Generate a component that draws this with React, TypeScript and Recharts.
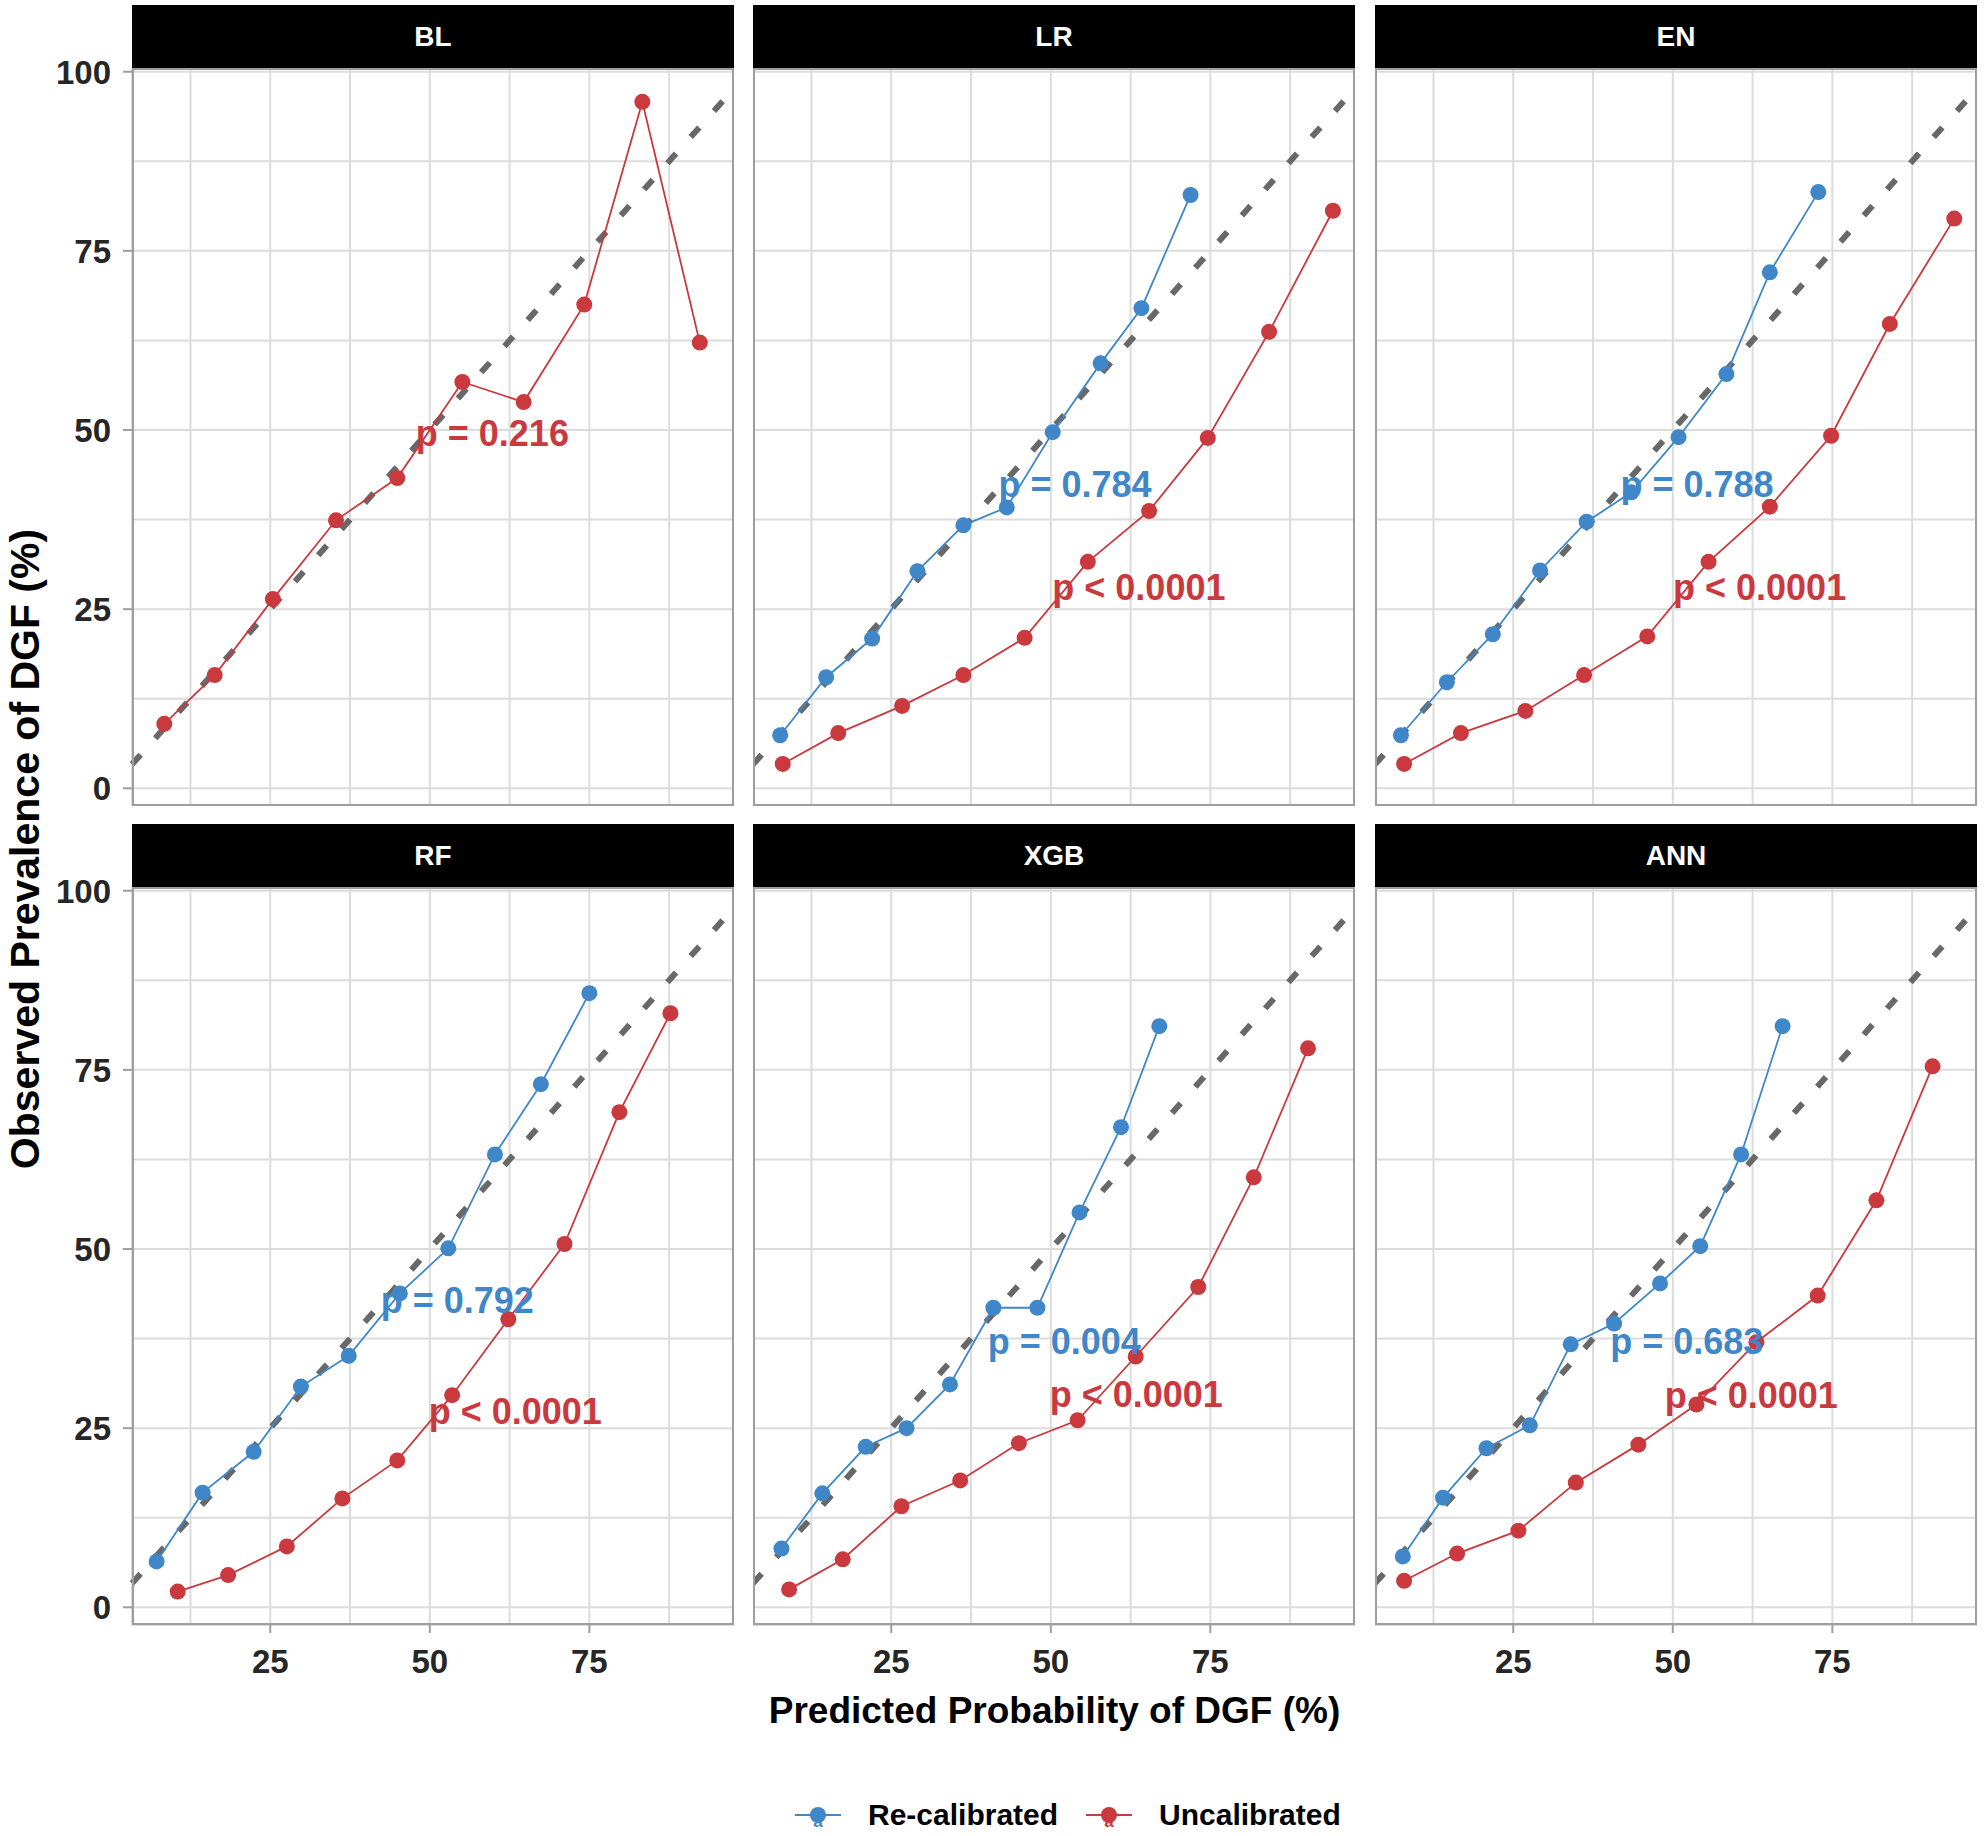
import React from "react";
import {
  LineChart,
  Line,
  XAxis,
  YAxis,
  CartesianGrid,
  ReferenceLine,
  ReferenceDot,
} from "recharts";

const BLUE = "#3f87c8";
const RED = "#c9393e";
const DIAG = "#686868";
const GRID = "#dcdcdc";
const BORDER = "#9e9e9e";
const INK = "#262626";

const X_DOMAIN: [number, number] = [3.34, 97.66];
const Y_DOMAIN: [number, number] = [-2.47, 100.52];
const X_TICKS = [12.5, 25, 37.5, 50, 62.5, 75, 87.5];
const Y_TICKS = [0, 12.5, 25, 37.5, 50, 62.5, 75, 87.5, 100];
const X_MAJOR = [25, 50, 75];
const Y_MAJOR = [0, 25, 50, 75, 100];

const MODELS = ["BL", "LR", "EN", "RF", "XGB", "ANN"];

// predicted (x) vs observed (y), per risk group
const BL_UNCAL_X = [8.4, 16.3, 25.4, 35.3, 44.9, 55.1, 64.7, 74.2, 83.3, 92.3];
const BL_UNCAL_Y = [9.0, 15.8, 26.4, 37.4, 43.3, 56.7, 53.9, 67.5, 95.8, 62.2];

const LR_RECAL_X = [7.6, 14.8, 22.0, 29.1, 36.3, 43.1, 50.3, 57.8, 64.2, 71.9];
const LR_RECAL_Y = [7.4, 15.5, 20.9, 30.3, 36.7, 39.2, 49.7, 59.3, 67.0, 82.8];
const LR_UNCAL_X = [8.0, 16.7, 26.7, 36.3, 45.9, 55.8, 65.4, 74.6, 84.2, 94.2];
const LR_UNCAL_Y = [3.4, 7.7, 11.5, 15.8, 21.0, 31.6, 38.7, 48.9, 63.7, 80.6];

const EN_RECAL_X = [7.4, 14.6, 21.8, 29.2, 36.5, 43.5, 50.9, 58.4, 65.2, 72.8];
const EN_RECAL_Y = [7.4, 14.8, 21.5, 30.4, 37.2, 41.3, 49.0, 57.8, 72.0, 83.2];
const EN_UNCAL_X = [7.9, 16.8, 26.9, 36.1, 46.0, 55.6, 65.2, 74.8, 84.0, 94.1];
const EN_UNCAL_Y = [3.4, 7.7, 10.8, 15.8, 21.2, 31.6, 39.3, 49.2, 64.8, 79.5];

const RF_RECAL_X = [7.2, 14.4, 22.4, 29.8, 37.3, 45.3, 52.9, 60.2, 67.4, 75.0];
const RF_RECAL_Y = [6.4, 16.0, 21.7, 30.8, 35.1, 43.8, 50.1, 63.2, 73.0, 85.7];
const RF_UNCAL_X = [10.5, 18.4, 27.6, 36.3, 44.9, 53.5, 62.3, 71.1, 79.7, 87.7];
const RF_UNCAL_Y = [2.2, 4.5, 8.5, 15.2, 20.5, 29.6, 40.2, 50.7, 69.1, 82.9];

const XGB_RECAL_X = [7.8, 14.2, 21.0, 27.4, 34.2, 41.0, 47.9, 54.5, 61.0, 67.0];
const XGB_RECAL_Y = [8.2, 15.9, 22.4, 25.0, 31.1, 41.8, 41.8, 55.1, 67.0, 81.1];
const XGB_UNCAL_X = [9.0, 17.4, 26.6, 35.8, 45.0, 54.2, 63.3, 73.1, 81.8, 90.3];
const XGB_UNCAL_Y = [2.5, 6.7, 14.1, 17.7, 22.9, 26.1, 35.0, 44.7, 60.0, 78.0];

const ANN_RECAL_X = [7.7, 14.0, 20.8, 27.6, 34.0, 40.8, 48.0, 54.3, 60.7, 67.2];
const ANN_RECAL_Y = [7.1, 15.3, 22.2, 25.4, 36.7, 39.6, 45.2, 50.4, 63.2, 81.1];
const ANN_UNCAL_X = [7.9, 16.2, 25.8, 34.8, 44.6, 53.7, 63.1, 72.7, 81.9, 90.7];
const ANN_UNCAL_Y = [3.7, 7.5, 10.7, 17.4, 22.7, 28.3, 37.0, 43.5, 56.8, 75.5];

// p-value annotations: text and data position
const P_RECAL = [null, "p = 0.784", "p = 0.788", "p = 0.792", "p = 0.004", "p = 0.683"];
const P_RECAL_X = [0, 53.8, 53.8, 54.3, 52.1, 52.2];
const P_RECAL_Y = [0, 42.5, 42.5, 42.9, 37.2, 37.2];
const P_UNCAL = ["p = 0.216", "p < 0.0001", "p < 0.0001", "p < 0.0001", "p < 0.0001", "p < 0.0001"];
const P_UNCAL_X = [59.8, 63.8, 63.6, 63.4, 63.4, 62.3];
const P_UNCAL_Y = [49.6, 28.1, 28.1, 27.4, 29.8, 29.6];

const zip = (xs: number[], ys: number[]) => xs.map((x, i) => ({ x, y: ys[i] }));

const RECAL = [
  null,
  zip(LR_RECAL_X, LR_RECAL_Y),
  zip(EN_RECAL_X, EN_RECAL_Y),
  zip(RF_RECAL_X, RF_RECAL_Y),
  zip(XGB_RECAL_X, XGB_RECAL_Y),
  zip(ANN_RECAL_X, ANN_RECAL_Y),
];
const UNCAL = [
  zip(BL_UNCAL_X, BL_UNCAL_Y),
  zip(LR_UNCAL_X, LR_UNCAL_Y),
  zip(EN_UNCAL_X, EN_UNCAL_Y),
  zip(RF_UNCAL_X, RF_UNCAL_Y),
  zip(XGB_UNCAL_X, XGB_UNCAL_Y),
  zip(ANN_UNCAL_X, ANN_UNCAL_Y),
];

// layout (page pixels)
const COL_LEFT = [132, 753, 1375];
const ROW_TOP = [5, 824];
const PANEL_W = 602;
const PANEL_H = 738;
const STRIP_H = 63;
const Y_AXIS_W = 132;
const X_AXIS_H = 70;
const TOP_PAD = 24; // room above the panel for the "100" label
const FONT = "'Liberation Sans', Arial, sans-serif";

function XTick(props: any) {
  const { x, y, payload } = props;
  if (!X_MAJOR.includes(payload.value)) return <g />;
  return (
    <g>
      <line x1={x} x2={x} y1={y} y2={y + 8} stroke={BORDER} strokeWidth={2} />
      <text x={x} y={y + 48} textAnchor="middle" fontSize={33} fontWeight="bold" fill={INK}>
        {payload.value}
      </text>
    </g>
  );
}

function YTick(props: any) {
  const { x, y, payload } = props;
  if (!Y_MAJOR.includes(payload.value)) return <g />;
  return (
    <g>
      <line x1={x - 9} x2={x} y1={y} y2={y} stroke={BORDER} strokeWidth={2} />
      <text x={x - 21} y={y + 12} textAnchor="end" fontSize={33} fontWeight="bold" fill={INK}>
        {payload.value}
      </text>
    </g>
  );
}

function Panel({ idx }: { idx: number }) {
  const col = idx % 3;
  const row = Math.floor(idx / 3);
  const yW = col === 0 ? Y_AXIS_W : 0;
  const xH = row === 1 ? X_AXIS_H : 0;
  const recal = RECAL[idx];
  const uncal = UNCAL[idx];
  const panelTop = ROW_TOP[row] + STRIP_H;
  return (
    <>
      <div style={{ position: "absolute", left: COL_LEFT[col] - yW, top: panelTop - TOP_PAD }}>
        <LineChart
          width={PANEL_W + yW}
          height={PANEL_H + xH + TOP_PAD}
          margin={{ top: TOP_PAD, right: 0, bottom: 0, left: 0 }}
        >
          <CartesianGrid stroke={GRID} strokeWidth={2} />
          <XAxis
            type="number"
            dataKey="x"
            domain={X_DOMAIN}
            allowDataOverflow
            ticks={X_TICKS}
            interval={0}
            hide={row === 0}
            height={xH}
            axisLine={false}
            tickLine={false}
            tickSize={0}
            tickMargin={0}
            tick={<XTick />}
          />
          <YAxis
            type="number"
            dataKey="y"
            domain={Y_DOMAIN}
            allowDataOverflow
            ticks={Y_TICKS}
            interval={0}
            hide={col !== 0}
            width={yW}
            axisLine={false}
            tickLine={false}
            tickSize={0}
            tickMargin={0}
            tick={<YTick />}
          />
          <ReferenceLine
            segment={[
              { x: X_DOMAIN[0], y: X_DOMAIN[0] },
              { x: X_DOMAIN[1], y: X_DOMAIN[1] },
            ]}
            stroke={DIAG}
            strokeWidth={6}
            strokeDasharray="13 22"
            ifOverflow="visible"
          />
          {recal && (
            <Line
              data={recal}
              dataKey="y"
              stroke={BLUE}
              strokeWidth={1.8}
              dot={{ r: 8, fill: BLUE, stroke: BLUE, strokeWidth: 0 }}
              isAnimationActive={false}
            />
          )}
          <Line
            data={uncal}
            dataKey="y"
            stroke={RED}
            strokeWidth={1.8}
            dot={{ r: 8, fill: RED, stroke: RED, strokeWidth: 0 }}
            isAnimationActive={false}
          />
          {P_RECAL[idx] && (
            <ReferenceDot
              x={P_RECAL_X[idx]}
              y={P_RECAL_Y[idx]}
              r={0}
              fill="none"
              stroke="none"
              label={{
                value: P_RECAL[idx] as string,
                position: "center",
                fill: BLUE,
                fontSize: 36,
                fontWeight: "bold",
              }}
            />
          )}
          <ReferenceDot
            x={P_UNCAL_X[idx]}
            y={P_UNCAL_Y[idx]}
            r={0}
            fill="none"
            stroke="none"
            label={{
              value: P_UNCAL[idx],
              position: "center",
              fill: RED,
              fontSize: 36,
              fontWeight: "bold",
            }}
          />
        </LineChart>
      </div>
      <div
        style={{
          position: "absolute",
          left: COL_LEFT[col],
          top: ROW_TOP[row],
          width: PANEL_W,
          height: STRIP_H,
          background: "#000",
          color: "#fff",
          fontWeight: "bold",
          fontSize: 28,
          display: "flex",
          alignItems: "center",
          justifyContent: "center",
        }}
      >
        {MODELS[idx]}
      </div>
      <div
        style={{
          position: "absolute",
          left: COL_LEFT[col],
          top: panelTop,
          width: PANEL_W,
          height: PANEL_H,
          border: `2px solid ${BORDER}`,
          boxSizing: "border-box",
          pointerEvents: "none",
        }}
      />
    </>
  );
}

function LegendKey({ color }: { color: string }) {
  return (
    <svg width={46} height={34} style={{ display: "block" }}>
      <line x1={0} x2={46} y1={17} y2={17} stroke={color} strokeWidth={2} />
      <circle cx={23} cy={17} r={8} fill={color} />
      <text x={23} y={29} textAnchor="middle" fontSize={17} fontWeight="bold" fill={color}>
        a
      </text>
    </svg>
  );
}

export default function App() {
  return (
    <div
      style={{
        position: "absolute",
        left: 0,
        top: 0,
        width: 1984,
        height: 1836,
        background: "#fff",
        fontFamily: FONT,
        overflow: "hidden",
      }}
    >
      {MODELS.map((m, i) => (
        <Panel key={m} idx={i} />
      ))}
      <div
        style={{
          position: "absolute",
          left: 25,
          top: 849,
          transform: "translate(-50%, -50%) rotate(-90deg)",
          whiteSpace: "nowrap",
          fontSize: 41,
          fontWeight: "bold",
          color: "#000",
          lineHeight: 1,
        }}
      >
        Observed Prevalence of DGF (%)
      </div>
      <div
        style={{
          position: "absolute",
          left: COL_LEFT[0],
          width: COL_LEFT[2] + PANEL_W - COL_LEFT[0],
          top: 1692,
          textAlign: "center",
          fontSize: 37,
          fontWeight: "bold",
          color: "#000",
          lineHeight: 1,
        }}
      >
        Predicted Probability of DGF (%)
      </div>
      <div
        style={{
          position: "absolute",
          left: 795,
          top: 1798,
          height: 34,
          display: "flex",
          alignItems: "center",
          fontSize: 30,
          fontWeight: "bold",
          color: "#000",
          lineHeight: 1,
        }}
      >
        <LegendKey color={BLUE} />
        <span style={{ marginLeft: 27, marginRight: 28 }}>Re-calibrated</span>
        <LegendKey color={RED} />
        <span style={{ marginLeft: 27 }}>Uncalibrated</span>
      </div>
    </div>
  );
}
